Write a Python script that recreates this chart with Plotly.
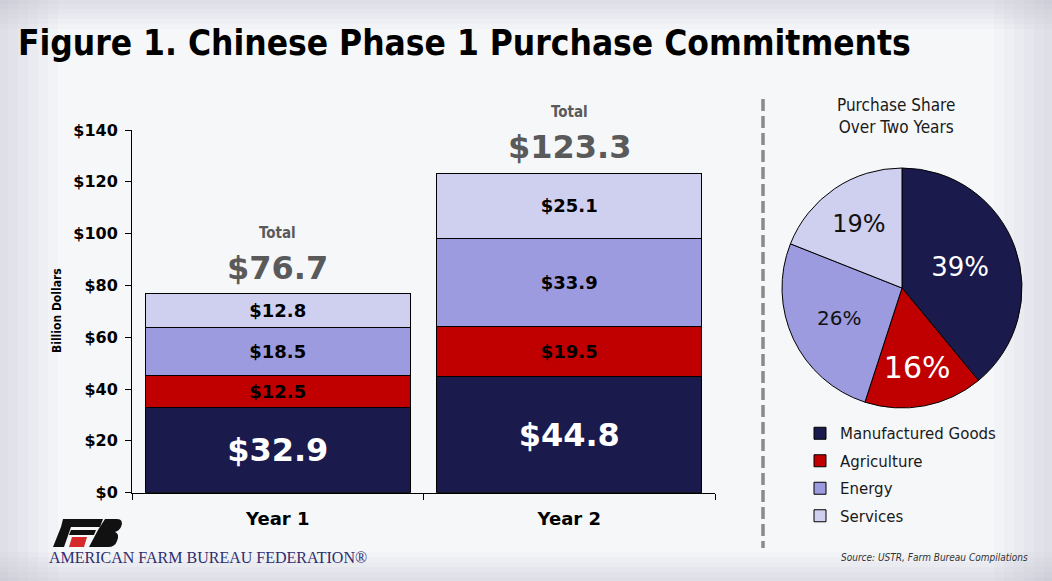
import plotly.graph_objects as go

# data
years = ["Year 1", "Year 2"]
categories = ["Manufactured Goods", "Agriculture", "Energy", "Services"]
manufactured = [32.9, 44.8]
agriculture = [12.5, 19.5]
energy = [18.5, 33.9]
services = [12.8, 25.1]
totals = [76.7, 123.3]
share_pct = [39, 16, 26, 19]
y_ticks = [0, 20, 40, 60, 80, 100, 120, 140]

colors = ["#1b1a4d", "#c00000", "#9c9bdf", "#cfcff0"]
series = [manufactured, agriculture, energy, services]

W, H = 1052, 581
HEAVY = "DejaVu Sans"
NARROW = "DejaVu Sans Condensed, Roboto Condensed, Roboto, sans-serif"


def fx(px):
    return px / W


def fy(py):
    return 1 - py / H


def path_from(points):
    s = "M " + " L ".join("%.5f,%.5f" % (fx(x), fy(y)) for x, y in points)
    return s + " Z"


fig = go.Figure()

for i, (name, vals) in enumerate(zip(categories, series)):
    big = i == 0
    fig.add_trace(go.Bar(
        x=years, y=vals, name=name,
        legendgroup=name,
        marker=dict(color=colors[i], line=dict(color="black", width=1)),
        text=["$%.1f" % v for v in vals],
        textposition="inside",
        insidetextanchor="middle",
        textangle=0,
        constraintext="none",
        textfont=dict(family=HEAVY, size=32 if big else 18,
                      color="white" if big else "black", weight="bold"),
        hoverinfo="skip",
    ))

fig.add_trace(go.Pie(
    labels=categories, values=share_pct,
    sort=False, direction="clockwise", rotation=0,
    marker=dict(colors=colors, line=dict(color="black", width=1)),
    texttemplate="%{value}%",
    textposition="inside",
    insidetextorientation="horizontal",
    textfont=dict(family="DejaVu Sans", size=[26, 30, 20, 24],
                  color=["white", "white", "#111111", "#111111"]),
    domain=dict(x=[fx(782), fx(1022)], y=[fy(408), fy(168)]),
    showlegend=False,
    hoverinfo="skip",
))

annotations = []
for yr, tot in zip(years, totals):
    annotations.append(dict(
        x=yr, y=tot, xref="x", yref="y", text="$%.1f" % tot,
        showarrow=False, yanchor="bottom", yshift=5,
        font=dict(family=HEAVY, size=32, color="#5a5a5a", weight="bold"),
    ))
    annotations.append(dict(
        x=yr, y=tot, xref="x", yref="y", text="Total",
        showarrow=False, yanchor="bottom", yshift=50,
        font=dict(family=NARROW, size=15, color="#5a5a5a", weight="bold"),
    ))

annotations += [
    dict(x=fx(16), y=fy(43), xref="paper", yref="paper", xanchor="left",
         yanchor="middle", showarrow=False,
         text="Figure 1. Chinese Phase 1 Purchase Commitments",
         font=dict(family=NARROW, size=35, color="black", weight="bold")),
    dict(x=fx(57), y=fy(311), xref="paper", yref="paper", textangle=-90,
         xanchor="center", yanchor="middle", showarrow=False,
         text="Billion Dollars",
         font=dict(family=NARROW, size=12, color="black", weight="bold")),
    dict(x=fx(896), y=fy(116), xref="paper", yref="paper", showarrow=False,
         xanchor="center", yanchor="middle",
         text="Purchase Share<br>Over Two Years",
         font=dict(family=NARROW, size=17, color="#1a1a1a")),
    dict(x=fx(1030), y=fy(557), xref="paper", yref="paper", xanchor="right",
         yanchor="middle", showarrow=False,
         text="<i>Source: USTR, Farm Bureau Compilations</i>",
         font=dict(family=NARROW, size=10, color="#333333")),
    dict(x=fx(47), y=fy(557), xref="paper", yref="paper", xanchor="left",
         yanchor="middle", showarrow=False, text="AMERICAN FARM BUREAU FEDERATION®",
         font=dict(family="Liberation Serif", size=16, color="#2e2d6e")),
]

shapes = []

# soft grey vignette along the edges of the slide
for k in range(6):
    d = 8 + 10 * k
    for x0, x1, y0, y1 in [(0, d, 0, H), (W - d, W, 0, H), (0, W, 0, d * 0.5),
                           (0, W, H - d * 0.5, H)]:
        shapes.append(dict(type="rect", xref="paper", yref="paper", layer="below",
                           x0=fx(x0), x1=fx(x1), y0=fy(y1), y1=fy(y0),
                           fillcolor="#9a9aa6", opacity=0.035, line=dict(width=0)))

# rough farm bureau logo
logo_black = [
    [(63, 519), (103, 519), (100, 527), (61, 527)],
    [(61, 527), (71, 527), (64, 547), (53, 547)],
    [(71, 530), (96, 530), (94, 535), (69, 535)],
]
for pts in logo_black:
    shapes.append(dict(type="path", path=path_from(pts), xref="paper",
                       yref="paper", fillcolor="#111111", line=dict(width=0)))
shapes.append(dict(type="path", path=path_from([(72, 537), (87, 537), (84, 547), (69, 547)]),
                   xref="paper", yref="paper", fillcolor="#d62a2a", line=dict(width=0)))
b_path = ("M %.5f,%.5f L %.5f,%.5f Q %.5f,%.5f %.5f,%.5f Q %.5f,%.5f %.5f,%.5f "
          "Q %.5f,%.5f %.5f,%.5f Q %.5f,%.5f %.5f,%.5f L %.5f,%.5f L %.5f,%.5f Z") % (
    fx(105), fy(519), fx(117), fy(519), fx(124), fy(519), fx(121), fy(527),
    fx(119), fy(531), fx(115), fy(532), fx(120), fy(534), fx(117), fy(541),
    fx(115), fy(547), fx(108), fy(547), fx(89), fy(547), fx(98), fy(530))
shapes.append(dict(type="path", path=b_path, xref="paper", yref="paper",
                   fillcolor="#111111", line=dict(width=0)))

# dashed divider
shapes.append(dict(type="line", xref="paper", yref="paper",
                   x0=fx(763), x1=fx(763), y0=fy(99), y1=fy(548),
                   line=dict(color="#8a8a8a", width=3.5, dash="12px,5px")))

fig.update_layout(
    width=W, height=H,
    barmode="stack", bargap=0.09,
    margin=dict(l=0, r=0, t=0, b=0),
    paper_bgcolor="#f6f7f9", plot_bgcolor="rgba(0,0,0,0)",
    annotations=annotations, shapes=shapes,
    showlegend=True,
    legend=dict(x=fx(800), y=fy(417), xanchor="left", yanchor="top",
                traceorder="grouped", tracegroupgap=5,
                bgcolor="rgba(0,0,0,0)",
                font=dict(family="DejaVu Sans", size=15, color="#1a1a1a")),
    xaxis=dict(domain=[fx(132), fx(715)], showline=True, linecolor="black",
               linewidth=1, ticks="outside", tickson="boundaries", ticklen=6,
               tickcolor="black", automargin=False, ticklabelstandoff=10,
               tickfont=dict(family=HEAVY, size=18, color="black", weight="bold")),
    yaxis=dict(domain=[fy(492.7), fy(130)], range=[0, 140], tickvals=y_ticks,
               ticktext=["$%d" % v for v in y_ticks],
               showline=True, linecolor="black", linewidth=1,
               ticks="outside", ticklen=6, tickcolor="black", showgrid=False,
               zeroline=False, automargin=False, ticklabelstandoff=4,
               tickfont=dict(family=HEAVY, size=16, color="black", weight="bold")),
)

fig.write_html("out.html", config={"displayModeBar": False},
               post_script="document.body.style.margin='0';")
